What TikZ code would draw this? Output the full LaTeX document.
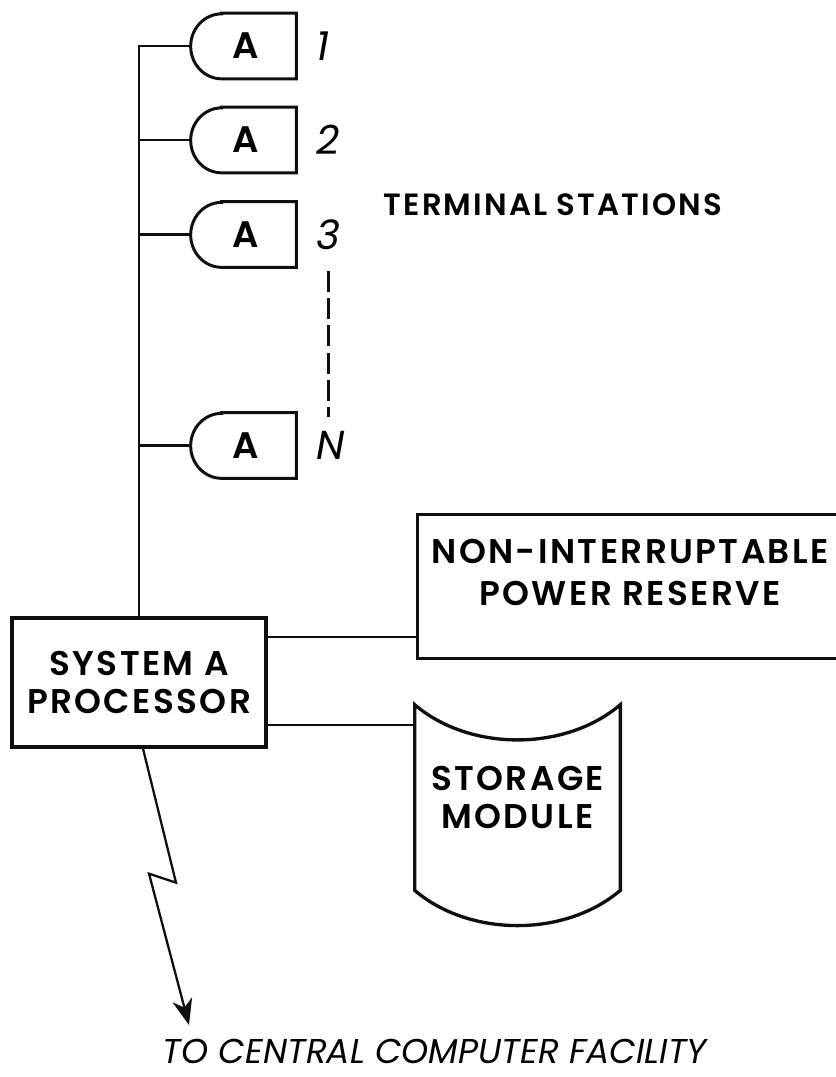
\documentclass[tikz,border=0pt]{standalone}
\usepackage{fontspec}
\setmainfont{Poppins}
\newfontfamily\blkfont{Poppins SemiBold}[LetterSpace=7]
\newfontfamily\lblfont{Poppins Italic}
\usetikzlibrary{arrows.meta,positioning,calc}
\definecolor{ink}{RGB}{15,15,15}

\begin{document}
\begin{tikzpicture}[x=0.02cm, y=0.02cm,
  blk/.style={rectangle, draw=ink, line width=1.9pt, align=center, inner sep=0pt,
    font=\blkfont\fontsize{19.5}{22}\selectfont},
  term/.style={rectangle, minimum width=2.1cm, minimum height=1.3cm, inner sep=0pt,
    font=\blkfont\fontsize{21}{24}\selectfont},
  termline/.style={draw=ink, line width=1.7pt},
  num/.style={font=\lblfont\fontsize{23}{26}\selectfont, inner sep=0pt},
  bus/.style={draw=ink, line width=1.3pt},
  gap/.style={draw=ink, line width=1.4pt, dash pattern=on 12pt off 3.5pt},
  zap/.style={draw=ink, line width=1.3pt, -{Stealth[length=0.52cm, width=0.4cm, inset=0.16cm]}}
]
  \useasboundingbox (0,0) rectangle (835,-1077);

  % Terminal stations
  \node[term] (t1) at (243.5,-46) {\hspace*{0.1cm}A};
  \node[term] (t2) at (243.5,-140) {\hspace*{0.1cm}A};
  \node[term] (t3) at (243.5,-234.5) {\hspace*{0.1cm}A};
  \node[term] (tn) at (243.5,-445.5) {\hspace*{0.1cm}A};
  \foreach \t in {t1,t2,t3,tn}
    \draw[termline] ($(\t.north west)+(31,0)$) -- (\t.north east) -- (\t.south east)
      -- ($(\t.south west)+(31,0)$) arc[start angle=-90, end angle=-270, x radius=0.62cm, y radius=0.65cm] -- cycle;

  \node[num, right=0.4cm of t1] (n1) {1};
  \node[num, right=0.4cm of t2] (n2) {2};
  \node[num, right=0.4cm of t3] (n3) {3};
  \node[num, right=0.4cm of tn] (nn) {N};
  \draw[gap] ([yshift=-0.42cm]n3.south) -- ([yshift=0.28cm]n3.south |- nn.north);

  \node[font=\blkfont\fontsize{17.5}{20}\selectfont] (ts) at (553,-205) {TERMINAL STATIONS};

  % Processor
  \node[blk, minimum width=5.08cm, minimum height=2.58cm] (proc) at (139,-682.5) {SYSTEM A\\PROCESSOR};

  % Bus
  \draw[bus] (t1.west) -| (proc.north);
  \foreach \t in {t2,t3,tn}
    \draw[bus] (\t.west) -- (\t.west -| proc.north);

  % Power reserve
  \node[blk, minimum width=8.5cm, minimum height=2.88cm, anchor=north west] (pwr) at (416,-513)
    {\raisebox{0.2cm}[\height][\depth]{\begin{tabular}{@{}c@{}}NON-INTERRUPTABLE\\[2pt]POWER RESERVE\end{tabular}}};
  \draw[bus] ([yshift=0.91cm]proc.east) -- ([yshift=0.91cm]proc.east -| pwr.west);

  % Storage module
  \node[rectangle, minimum width=4.1cm, minimum height=3.7cm, inner sep=0pt, align=center,
    font=\blkfont\fontsize{19.5}{22}\selectfont] (stor) at (517.5,-797.5) {STORAGE\\MODULE};
  \draw[draw=ink, line width=1.9pt] (stor.north west) .. controls +(55,-47) and +(-55,-47) .. (stor.north east)
    -- (stor.south east) .. controls +(-55,-47) and +(55,-47) .. (stor.south west) -- cycle;
  \draw[bus] ([yshift=-0.85cm]proc.east) -- ([yshift=-0.85cm]proc.east -| stor.west);

  % Link to central facility
  \coordinate (cc) at (189,-1025);
  \draw[zap] ([xshift=0.08cm]proc.south) -- ++(33,-134) -- ++(-27,9) -- (cc);
  \node[font=\lblfont\fontsize{19.6}{22}\selectfont] (ccf) at (435,-1051) {TO CENTRAL COMPUTER FACILITY};
\end{tikzpicture}
\end{document}
